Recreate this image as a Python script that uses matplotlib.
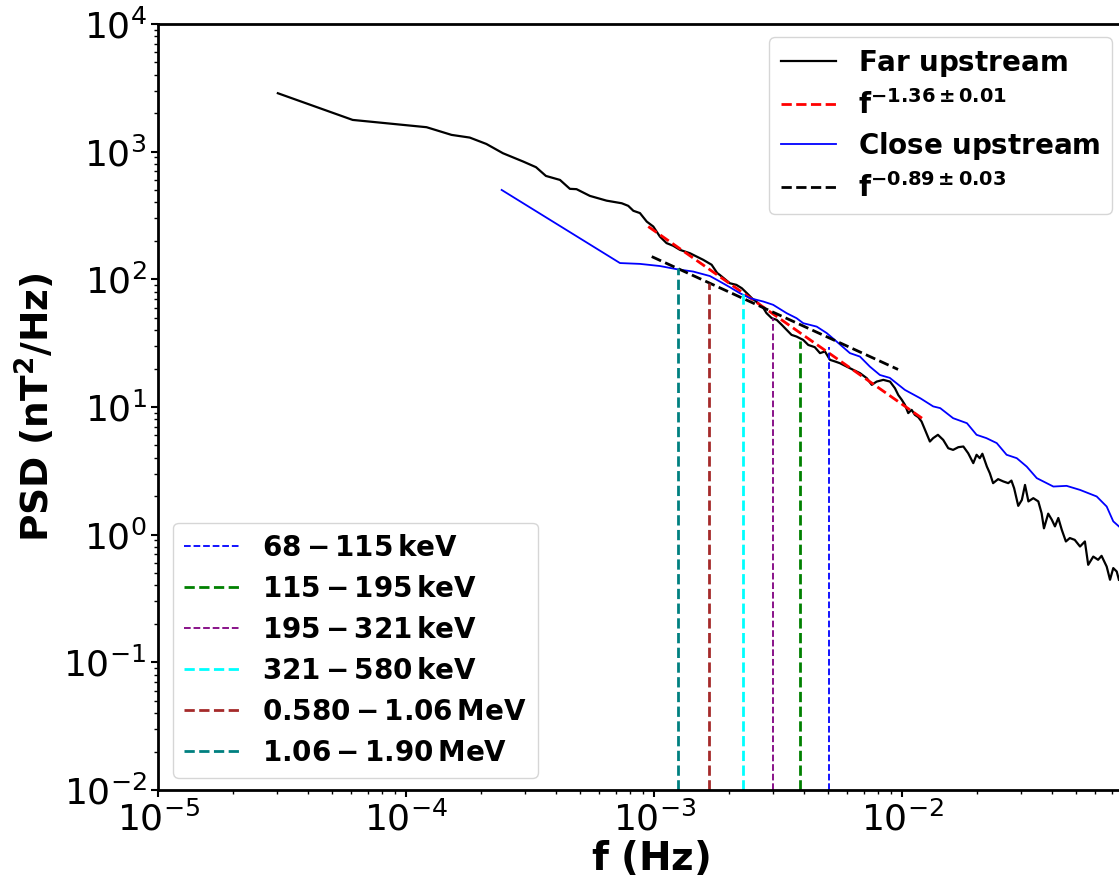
import matplotlib.pyplot as plt

# Far upstream PSD (black)
f_far = [3.03e-5, 6.07e-5, 1.205e-4, 1.52e-4, 1.80e-4, 2.10e-4, 2.45e-4, 2.96e-4,
         3.33e-4, 3.65e-4, 4.16e-4, 4.56e-4, 4.85e-4, 5.49e-4, 6.41e-4, 7.38e-4,
         7.84e-4, 8.22e-4, 8.74e-4, 9.31e-4, 9.89e-4, 1.052e-3, 1.119e-3, 1.19e-3,
         1.267e-3, 1.39e-3, 1.573e-3, 1.70e-3, 1.79e-3,
         1.836e-3, 2.014e-3, 2.14e-3, 2.25e-3, 2.36e-3, 2.47e-3, 2.62e-3, 2.75e-3,
         2.83e-3, 2.97e-3, 3.11e-3, 3.26e-3, 3.41e-3, 3.57e-3, 3.74e-3, 3.98e-3,
         4.17e-3, 4.43e-3, 4.65e-3, 4.87e-3, 5.10e-3, 5.35e-3, 5.60e-3, 5.96e-3,
         6.34e-3, 6.74e-3, 7.18e-3, 7.52e-3, 7.87e-3, 8.37e-3, 8.91e-3,
         9.33e-3, 9.62e-3, 9.93e-3, 1.023e-2, 1.055e-2, 1.089e-2, 1.122e-2, 1.158e-2,
         1.194e-2, 1.233e-2, 1.29e-2, 1.33e-2, 1.39e-2, 1.46e-2, 1.53e-2, 1.60e-2,
         1.68e-2, 1.76e-2,
         1.841e-2, 1.93e-2, 1.99e-2, 2.05e-2, 2.10e-2, 2.19e-2, 2.25e-2, 2.32e-2,
         2.43e-2, 2.55e-2, 2.67e-2, 2.75e-2, 2.82e-2, 2.93e-2, 3.03e-2, 3.12e-2,
         3.22e-2, 3.37e-2, 3.53e-2, 3.64e-2, 3.72e-2, 3.87e-2, 4.00e-2, 4.12e-2,
         4.25e-2, 4.39e-2, 4.56e-2, 4.73e-2, 4.95e-2, 5.20e-2, 5.44e-2, 5.61e-2,
         5.88e-2, 6.15e-2, 6.35e-2, 6.66e-2, 6.87e-2, 7.08e-2, 7.31e-2, 7.46e-2]
psd_far = [2866, 1771, 1553, 1352, 1288, 1148, 971, 835,
           755, 645, 600, 511, 508, 450, 413, 394,
           376, 344, 330, 283, 259, 216, 192, 183,
           170, 160, 142, 130, 112,
           108, 93.1, 90.4, 85.1, 77.8, 71.1, 65.0, 59.4,
           54.3, 49.6, 48.1, 44.0, 40.2, 36.7, 35.6, 33.5,
           30.6, 29.4, 26.4, 27.2, 23.4, 22.7, 22.0, 20.7,
           19.5, 18.4, 16.8, 14.9, 15.8, 16.3, 15.8,
           14.0, 12.4, 11.4, 10.4, 8.95, 9.49, 8.67, 8.32,
           7.69, 6.62, 5.36, 5.70, 6.05, 5.52, 4.75, 4.61,
           4.84, 4.90,
           4.34, 3.63, 4.22, 3.97, 4.30, 3.41, 3.03, 2.53,
           2.72, 2.61, 2.53, 2.65, 2.31, 1.68, 1.87, 2.45,
           1.82, 1.93, 1.82, 1.47, 1.12, 1.46, 1.31, 1.16,
           1.35, 1.09, 0.884, 0.940, 0.910, 0.807, 0.884, 0.580,
           0.673, 0.635, 0.682, 0.562, 0.443, 0.547, 0.514, 0.443]

# Close upstream PSD (blue)
f_close = [2.42e-4, 7.26e-4, 8.74e-4, 1.052e-3, 1.228e-3, 1.432e-3, 1.674e-3, 1.836e-3,
           2.014e-3, 2.21e-3, 2.43e-3, 2.75e-3, 3.01e-3, 3.41e-3, 3.74e-3, 3.98e-3,
           4.51e-3, 4.95e-3, 5.43e-3, 6.14e-3, 6.74e-3, 7.39e-3, 8.11e-3, 8.89e-3,
           1.023e-2, 1.18e-2, 1.33e-2, 1.42e-2, 1.60e-2, 1.82e-2, 1.99e-2, 2.18e-2,
           2.40e-2, 2.63e-2, 2.89e-2, 3.17e-2, 3.48e-2, 4.06e-2, 4.59e-2, 5.20e-2,
           6.07e-2, 6.66e-2, 7.08e-2, 7.46e-2]
psd_close = [501, 134, 132, 127, 120, 115, 106, 96,
             86.7, 77.8, 71.1, 66.9, 63.1, 54.3, 49.6, 45.3,
             42.6, 37.9, 32.5, 26.4, 24.8, 20.7, 17.8, 16.9,
             13.6, 11.7, 10.1, 9.79, 8.17, 7.46, 6.05, 5.70,
             5.21, 4.22, 3.97, 3.41, 2.77, 2.38, 2.41, 2.24,
             1.99, 1.66, 1.27, 1.16]

# power-law fits: exponent, amplitude, frequency range
fit_far_exp = -1.36
fit_far_amp = 10 ** -1.701
fit_far_f = [9.44e-4, 1.21e-2]
fit_close_exp = -0.89
fit_close_amp = 10 ** -0.502
fit_close_f = [9.75e-4, 9.6e-3]

# energy channels
band_labels = [r'$\mathbf{68-115\,keV}$', r'$\mathbf{115-195\,keV}$',
               r'$\mathbf{195-321\,keV}$', r'$\mathbf{321-580\,keV}$',
               r'$\mathbf{0.580-1.06\,MeV}$', r'$\mathbf{1.06-1.90\,MeV}$']
band_freqs = [5.04e-3, 3.86e-3, 3.01e-3, 2.27e-3, 1.66e-3, 1.245e-3]
band_tops = [29.4, 33.1, 49.6, 82.6, 94.2, 122]
band_colors = ['blue', 'green', 'purple', 'cyan', 'brown', 'teal']
band_lw = [1.3, 2, 1.3, 2, 2, 2]

fig = plt.figure(figsize=(11.19, 8.9), dpi=100)
ax = fig.add_axes([0.1416, 0.1124, 0.8601, 0.8607])

h_far, = ax.plot(f_far, psd_far, color='black', lw=1.6,
                 label=r'$\mathbf{Far\ upstream}$')
fr = [fit_far_amp * f ** fit_far_exp for f in fit_far_f]
h_fit1, = ax.plot(fit_far_f, fr, '--', color='red', lw=2,
                  label=r'$\mathbf{f^{-1.36\pm0.01}}$')
h_close, = ax.plot(f_close, psd_close, color='blue', lw=1.3,
                   label=r'$\mathbf{Close\ upstream}$')
fc = [fit_close_amp * f ** fit_close_exp for f in fit_close_f]
h_fit2, = ax.plot(fit_close_f, fc, '--', color='black', lw=2,
                  label=r'$\mathbf{f^{-0.89\pm0.03}}$')

band_handles = []
for fq, top, c, lw, lab in zip(band_freqs, band_tops, band_colors, band_lw, band_labels):
    h, = ax.plot([fq, fq], [1e-2, top], '--', color=c, lw=lw, label=lab)
    band_handles.append(h)

ax.set_xscale('log')
ax.set_yscale('log')
ax.set_xlim(1e-5, 0.076)
ax.set_ylim(1e-2, 1e4)

ax.set_xlabel(r'$\mathbf{f\ (Hz)}$', fontsize=28)
ax.xaxis.set_label_coords(0.511, -0.064)
ax.set_ylabel(r'$\mathbf{PSD\ (nT^2/Hz)}$', fontsize=27)
ax.tick_params(which='major', labelsize=26, length=5, width=1.5)
ax.tick_params(which='minor', length=3, width=1)
for s in ax.spines.values():
    s.set_linewidth(2)

leg1 = ax.legend(handles=[h_far, h_fit1, h_close, h_fit2], fontsize=20,
                 loc='upper right', bbox_to_anchor=(0.9937, 0.9584),
                 bbox_transform=fig.transFigure, borderaxespad=0,
                 labelspacing=0.38)
ax.add_artist(leg1)
ax.legend(handles=band_handles, fontsize=20, loc='lower left',
          bbox_to_anchor=(0.1546, 0.1258), bbox_transform=fig.transFigure,
          borderaxespad=0, labelspacing=0.47)

fig.savefig('out.png', dpi=100)
